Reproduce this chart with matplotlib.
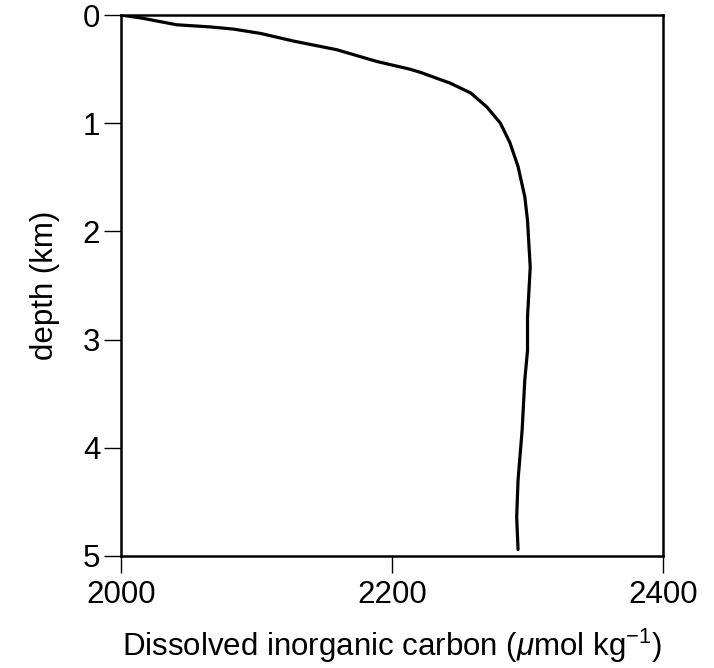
import matplotlib.pyplot as plt

plt.rcParams['font.family'] = ['Liberation Sans', 'DejaVu Sans']
plt.rcParams['mathtext.fontset'] = 'custom'
plt.rcParams['mathtext.rm'] = 'Liberation Sans'
plt.rcParams['mathtext.it'] = 'Liberation Sans:italic'

# DIC profile
dic = [2000, 2016, 2041, 2066, 2083, 2103, 2127, 2159, 2189, 2213, 2221,
       2243, 2258, 2270, 2280, 2287, 2293, 2298, 2300, 2302, 2300, 2300,
       2298, 2296, 2293, 2292, 2293]
depth = [0.0, 0.03, 0.09, 0.11, 0.13, 0.17, 0.24, 0.32, 0.43, 0.50, 0.53,
         0.63, 0.72, 0.85, 1.00, 1.18, 1.40, 1.68, 1.90, 2.33, 2.79, 3.10,
         3.37, 3.84, 4.30, 4.64, 4.94]

x_ticks = [2000, 2200, 2400]
y_ticks = [0, 1, 2, 3, 4, 5]

fig = plt.figure(figsize=(7.14, 6.68), dpi=100)
ax = fig.add_axes([0.1695, 0.1677, 0.7591, 0.8098])

ax.plot(dic, depth, color='black', lw=2.3, solid_capstyle='round',
        solid_joinstyle='round')

ax.set_xlim(2000, 2400)
ax.set_ylim(5, 0)
ax.set_xticks(x_ticks)
ax.set_yticks(y_ticks)

for s in ax.spines.values():
    s.set_linewidth(1.8)
ax.tick_params(direction='out', length=12, width=1, labelsize=22.5)
ax.tick_params(axis='x', pad=5)
ax.tick_params(axis='y', pad=3)

ax.set_xlabel(r'Dissolved inorganic carbon ($\mathit{\mu}$mol kg$^{-1}$)',
              fontsize=22.5, labelpad=12)
ax.set_ylabel('depth (km)', fontsize=22.5, labelpad=16)

fig.savefig('out.png', dpi=100)
